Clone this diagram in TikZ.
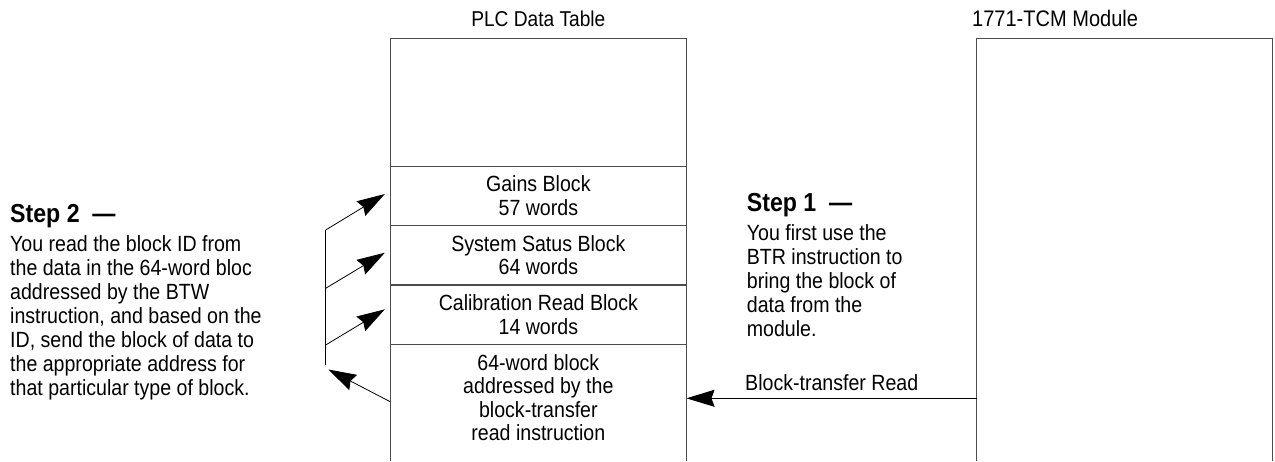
\documentclass[tikz,border=0pt]{standalone}
\usepackage{fontspec}
\setmainfont{Liberation Sans}[FakeStretch=0.89]
\usetikzlibrary{arrows.meta,calc}
\tikzset{
  boxline/.style={draw=black!70, line width=1pt},
  blockrow/.style={boxline, minimum width=295.3pt, minimum height=59.5pt, inner sep=0pt, align=center, font=\fontsize{22}{23.5}\selectfont},
  flowarrow/.style={-{Stealth[length=28pt,width=17pt,inset=3pt]}, line width=0.8pt},
  steptitle/.style={anchor=base west, inner sep=0pt, font=\fontsize{26}{28}\selectfont\bfseries},
  steptext/.style={anchor=base west, inner sep=0pt, align=left, font=\fontsize{22}{24}\selectfont},
  plaintext/.style={inner sep=0pt, font=\fontsize{22}{24}\selectfont},
}
\begin{document}
\begin{tikzpicture}[x=1pt,y=1pt,yscale=-1,xscale=1]
\useasboundingbox (0,0) rectangle (1275,461);

%Shape: PLC data table
\draw [boxline] (390.7,461) -- (390.7,38.3) -- (686,38.3) -- (686,461);
\node [blockrow] (gains) at (538.35,195.85) {Gains Block\\57 words};
\node [blockrow] (status) at (538.35,255.35) {System Satus Block\\64 words};
\node [blockrow] (calib) at (538.35,314.65) {Calibration Read Block\\14 words};
\node [blockrow, draw=none] (btrblk) at (538.35,397.5) {64-word block\\addressed by the\\block-transfer\\read instruction};
%Shape: module
\draw [boxline] (976.7,461) -- (976.7,38.3) -- (1272.7,38.3) -- (1272.7,461);

% Text Node
\node [plaintext, anchor=base, font=\fontsize{21.5}{24}\selectfont] (plctitle) at (538.3,26) {PLC Data Table};
% Text Node
\node [plaintext, anchor=base west, font=\fontsize{22.5}{26}\selectfont] (tcmtitle) at (972,26.5) {1771-TCM Module};

% Text Node (base is the last line)
\node [steptitle] (step2) at (10,222.3) {Step 2\ \ —};
\node [steptext] (step2text) at (10,395) {You read the block ID from\\the data in the 64-word bloc\\addressed by the BTW\\instruction, and based on the\\ID, send the block of data to\\the appropriate address for\\that particular type of block.};
% Text Node
\node [steptitle] (step1) at (746.7,211.7) {Step 1\ \ —};
\node [steptext] (step1text) at (746.7,336.5) {You first use the\\BTR instruction to\\bring the block of\\data from the\\module.};

%Arrow: block-transfer read
\coordinate (tcmport) at (976.7,398.3);
\draw [flowarrow] (tcmport) -- (tcmport -| btrblk.east);
\node [plaintext, anchor=base west] (btrlabel) at (745,390.7) {Block-transfer Read};

%Arrows: send blocks back to the table
\coordinate (fork1) at (325.7,230);
\coordinate (fork2) at (325.7,288.3);
\coordinate (fork3) at (325.7,345);
\coordinate (forkend) at (325.7,365);
\coordinate (back) at (328.3,369.5);
\draw [line width=0.8pt] (fork1) -- (forkend);
\draw [flowarrow] (fork1) -- ($(gains.west)+(-5.4,-1.8)$);
\draw [flowarrow] (fork2) -- ($(status.west)+(-5.4,-2.6)$);
\draw [flowarrow] (fork3) -- ($(calib.west)+(-5.4,-5.3)$);
\draw [flowarrow] ($(btrblk.west)+(0,4.2)$) -- (back);

\end{tikzpicture}
\end{document}
